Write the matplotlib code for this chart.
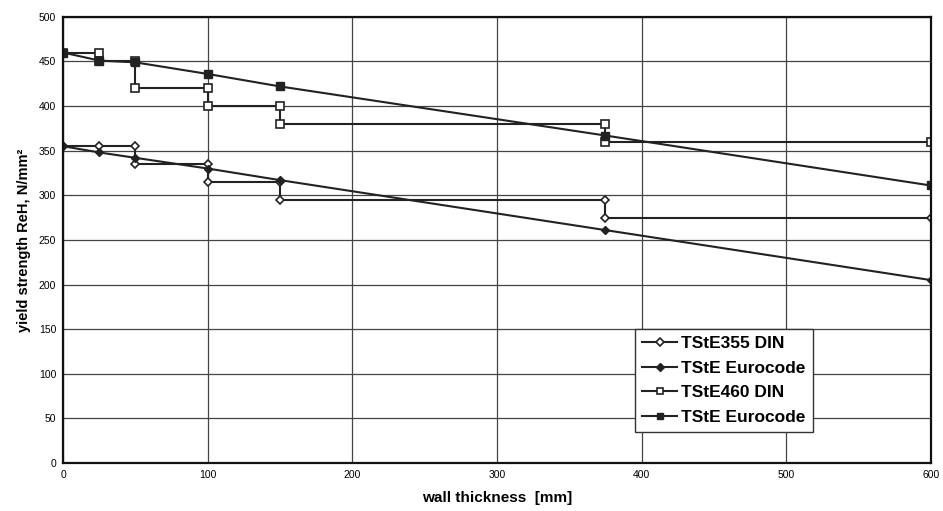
import matplotlib.pyplot as plt

plt.rcParams['font.family'] = ['Liberation Sans', 'DejaVu Sans']

# TStE355, DIN (step) and Eurocode (linear)
din355_x = [0, 25, 50, 50, 100, 100, 150, 150, 375, 375, 600]
din355_y = [355, 355, 355, 335, 335, 315, 315, 295, 295, 275, 275]
ec355_x = [0, 25, 50, 100, 150, 375, 600]
ec355_y = [355, 348, 342, 330, 317, 261, 205]

# TStE460, DIN (step) and Eurocode (linear)
din460_x = [0, 25, 25, 50, 50, 100, 100, 150, 150, 375, 375, 600]
din460_y = [460, 460, 450, 450, 420, 420, 400, 400, 380, 380, 360, 360]
ec460_x = [0, 25, 50, 100, 150, 375, 600]
ec460_y = [460, 451, 449, 436, 422, 367, 311]

labels = ['TStE355 DIN', 'TStE Eurocode', 'TStE460 DIN', 'TStE Eurocode']

fig = plt.figure(figsize=(9.43, 5.11), dpi=100)
ax = fig.add_axes([0.067, 0.094, 0.920, 0.873])

ax.plot(din355_x, din355_y, color='#222', lw=1.5, marker='D', ms=4.5,
        mfc='white', mec='#222', mew=1.2, label=labels[0])
ax.plot(ec355_x, ec355_y, color='#222', lw=1.5, marker='D', ms=4.5,
        mfc='#222', mec='#222', label=labels[1])
ax.plot(din460_x, din460_y, color='#222', lw=1.5, marker='s', ms=6,
        mfc='white', mec='#222', mew=1.2, label=labels[2])
ax.plot(ec460_x, ec460_y, color='#222', lw=1.5, marker='s', ms=6,
        mfc='#222', mec='#222', label=labels[3])

ax.set_xlim(0, 600)
ax.set_ylim(0, 500)
ax.set_xticks(range(0, 601, 100))
ax.set_yticks(range(0, 501, 50))
ax.grid(True, color='#444', lw=0.9)
ax.set_axisbelow(True)
ax.tick_params(labelsize=7.5, length=0, pad=5)
for s in ax.spines.values():
    s.set_linewidth(1.6)
    s.set_color('#111')

ax.set_xlabel('wall thickness  [mm]', fontsize=11, fontweight='bold', labelpad=8)
ax.set_ylabel('yield strength ReH, N/mm²', fontsize=10.5, fontweight='bold', labelpad=6)

leg = ax.legend(loc='lower right', bbox_to_anchor=(0.874, 0.05), fancybox=False,
                edgecolor='#333', framealpha=1, handlelength=2.0, handletextpad=0.25,
                borderpad=0.4, labelspacing=0.55, markerscale=0.8,
                prop={'weight': 'bold', 'size': 12.5})
leg.get_frame().set_linewidth(1.0)

fig.savefig('out.png', dpi=100)
